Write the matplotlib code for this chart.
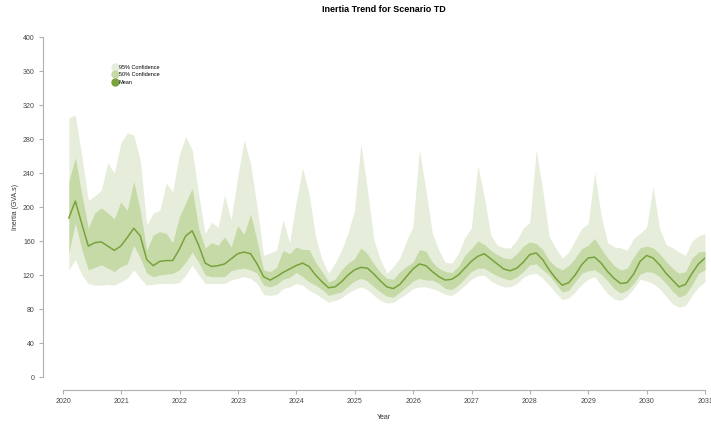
import numpy as np
import matplotlib
matplotlib.use('Agg')
import matplotlib.pyplot as plt
from matplotlib.lines import Line2D

plt.rcParams['font.family'] = ['Liberation Sans', 'DejaVu Sans']

# time axis: 9 samples per year, early 2020 to 2031
years = np.linspace(2020.1, 2031.0, 99)

mean = [187, 207, 180, 154, 158, 159, 154, 149, 154, 164, 175, 166, 138, 131, 136, 137, 137, 150,
        166, 172, 155, 134, 130, 131, 133, 139, 145, 147, 145, 133, 118, 114, 118, 123, 127, 131,
        134, 130, 120, 112, 105, 106, 112, 120, 126, 129, 128, 121, 113, 106, 104, 109, 118, 127,
        133, 131, 124, 118, 114, 115, 120, 128, 136, 142, 145, 139, 133, 127, 125, 128, 135, 144,
        146, 138, 126, 116, 108, 111, 120, 132, 140, 141, 134, 124, 116, 110, 111, 121, 136, 143,
        140, 132, 122, 114, 106, 109, 122, 133, 140]

hi50 = [230, 258, 215, 175, 193, 199, 193, 186, 206, 196, 230, 196, 149, 167, 171, 169, 158, 188,
        205, 222, 175, 152, 158, 155, 165, 153, 178, 168, 192, 160, 126, 124, 129, 149, 145, 153,
        150, 150, 135, 124, 112, 115, 126, 134, 139, 152, 145, 133, 123, 116, 115, 124, 130, 135,
        150, 148, 135, 128, 124, 123, 130, 143, 151, 160, 156, 149, 144, 140, 139, 145, 154, 159,
        157, 150, 137, 130, 126, 131, 140, 151, 155, 163, 151, 140, 131, 126, 128, 141, 152, 154,
        152, 145, 136, 128, 122, 124, 140, 147, 148]

lo50 = [146, 181, 150, 126, 129, 132, 128, 124, 130, 133, 155, 140, 122, 118, 120, 121, 122, 126,
        135, 147, 135, 120, 118, 118, 118, 125, 127, 128, 126, 122, 108, 106, 109, 115, 117, 123,
        118, 112, 108, 103, 96, 98, 100, 107, 113, 116, 113, 106, 100, 95, 94, 100, 106, 113,
        116, 114, 114, 110, 104, 103, 108, 116, 124, 128, 128, 123, 119, 116, 114, 118, 124, 132,
        133, 126, 120, 110, 100, 102, 112, 122, 125, 126, 121, 113, 104, 99, 102, 110, 121, 124,
        123, 118, 110, 101, 94, 97, 108, 122, 126]

hi95 = [305, 308, 260, 208, 213, 220, 252, 240, 275, 287, 285, 255, 179, 193, 196, 228, 218, 261,
        283, 267, 215, 169, 182, 176, 214, 185, 235, 279, 251, 200, 143, 146, 149, 185, 158, 205,
        246, 216, 165, 138, 122, 134, 149, 169, 196, 275, 220, 161, 138, 122, 130, 140, 160, 177,
        268, 220, 169, 149, 135, 134, 145, 164, 175, 249, 212, 167, 155, 152, 152, 161, 175, 182,
        267, 220, 165, 152, 140, 147, 161, 175, 180, 241, 190, 158, 153, 152, 149, 163, 169, 176,
        224, 175, 156, 152, 147, 143, 160, 166, 169]

lo95 = [126, 138, 120, 110, 108, 108, 109, 108, 112, 116, 126, 116, 108, 109, 110, 110, 110, 111,
        120, 132, 120, 110, 110, 110, 110, 114, 116, 118, 116, 110, 97, 96, 97, 104, 106, 110,
        108, 102, 98, 93, 88, 90, 93, 99, 103, 106, 103, 96, 90, 87, 88, 93, 98, 104,
        106, 106, 104, 101, 97, 96, 101, 108, 115, 119, 120, 113, 109, 106, 106, 110, 117, 121,
        122, 116, 108, 99, 91, 93, 100, 109, 115, 118, 108, 98, 92, 90, 95, 104, 115, 113,
        110, 104, 95, 86, 82, 84, 96, 106, 112]

c95 = '#e6eedb'
c50 = '#c6daa8'
cmean = '#78a23a'

W, H = 711, 424
fig = plt.figure(figsize=(W / 100, H / 100), dpi=100)
ax = fig.add_axes([63 / W, 1 - 377 / H, (705 - 63) / W, (377 - 37) / H])

ax.fill_between(years, lo95, hi95, color=c95, linewidth=0)
ax.fill_between(years, lo50, hi50, color=c50, linewidth=0)
ax.plot(years, mean, color=cmean, linewidth=1.1)

ax.set_xlim(2020, 2031)
ax.set_ylim(0, 400)
ax.set_xticks(range(2020, 2032))
ax.set_yticks(range(0, 401, 40))
ax.set_yticklabels([str(v) for v in range(0, 401, 40)], rotation=90, va='center')

for s in ['top', 'right']:
    ax.spines[s].set_visible(False)
ax.spines['left'].set_position(('outward', 14.4))
ax.spines['bottom'].set_position(('outward', 9.4))
for s in ['left', 'bottom']:
    ax.spines[s].set_color('#b0b0b0')
    ax.spines[s].set_linewidth(0.8)
ax.tick_params(axis='both', colors='#b0b0b0', labelcolor='#444444', labelsize=5,
               length=3, width=0.8, pad=3)

ax.set_title('Inertia Trend for Scenario TD', fontsize=6.5, fontweight='bold', pad=18)
ax.set_xlabel('Year', fontsize=5, color='#333333', labelpad=6)
ax.set_ylabel('Inertia (GVA.s)', fontsize=5, color='#333333', labelpad=3)

handles = [Line2D([], [], marker='o', linestyle='', markersize=5, color=c95),
           Line2D([], [], marker='o', linestyle='', markersize=5, color=c50),
           Line2D([], [], marker='o', linestyle='', markersize=5, color=cmean)]
fig.legend(handles, ['95% Confidence', '50% Confidence', 'Mean'], loc='upper left',
           bbox_to_anchor=(110 / W, 1 - 62 / H), frameon=False, fontsize=4,
           handlelength=0.8, handletextpad=0.3, labelspacing=0.45, borderpad=0)

fig.savefig('out.png', dpi=100)
